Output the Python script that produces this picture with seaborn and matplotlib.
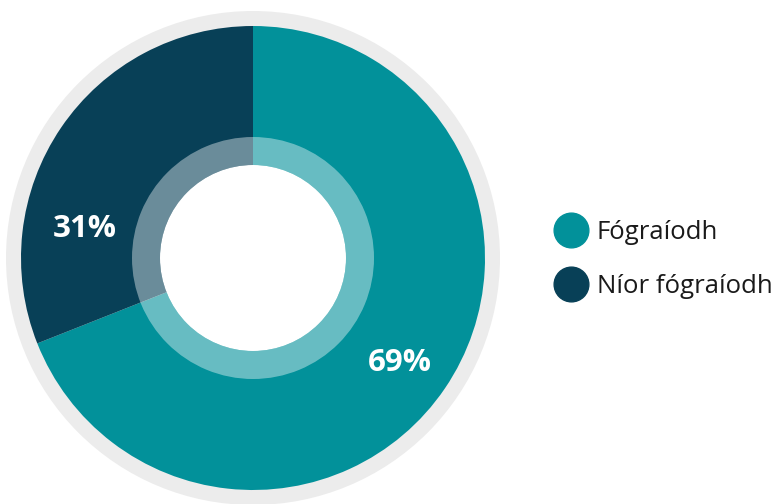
import numpy as np
import matplotlib
matplotlib.use("Agg")
import matplotlib.pyplot as plt
from matplotlib.patches import Circle, Wedge
from matplotlib.lines import Line2D
import seaborn as sns

# -------------------- data --------------------
categories = ["Fógraíodh", "Níor fógraíodh"]
shares = [69, 31]
pct_labels = ["69%", "31%"]
colors = ["#02919A", "#084057"]
# ----------------------------------------------

sns.set_theme(style="white")
plt.rcParams['font.family'] = ['Open Sans', 'DejaVu Sans']

W, H = 780, 504
fig = plt.figure(figsize=(W / 100, H / 100), dpi=100)
ax = fig.add_axes([0, 0, 1, 1])

cx, cy = 253, H - 258

# grey outer rim
ax.add_patch(Circle((cx, cy), 247, fc="#ECECEC", ec="none", zorder=0))

# the pie itself
wedges, _ = ax.pie(shares, colors=colors, startangle=90, counterclock=False,
                   center=(cx, cy), radius=232, frame=True,
                   wedgeprops=dict(linewidth=0))
ax.set_xlim(0, W)
ax.set_ylim(0, H)
ax.set_aspect("equal")
ax.axis("off")

# light translucent ring + white hole
ax.add_patch(Wedge((cx, cy), 121, 0, 360, width=28, fc="white", alpha=0.4,
                   ec="none", zorder=3))
ax.add_patch(Circle((cx, cy), 93, fc="white", ec="none", zorder=4))

# percentage labels
label_pos = {"69%": (181, -35.5), "31%": (171, 170.3)}
for lab in pct_labels:
    r, ang = label_pos[lab]
    a = np.deg2rad(ang)
    ax.text(cx + r * np.cos(a), cy + r * np.sin(a), lab, color="white",
            fontsize=22.5, fontweight="bold", ha="center", va="center", zorder=5)

# legend
handles = [Line2D([0], [0], marker="o", linestyle="none", markersize=25,
                  markerfacecolor=c, markeredgecolor=c) for c in colors]
leg = fig.legend(handles, categories, loc="upper left",
                 bbox_to_anchor=(540 / W, 1 - 210 / H), frameon=False,
                 fontsize=18.5, handletextpad=0.2, labelspacing=1.1,
                 handlelength=1.6, borderaxespad=0)
for t in leg.get_texts():
    t.set_color("#1a1a1a")

fig.savefig("out.png", dpi=100)
